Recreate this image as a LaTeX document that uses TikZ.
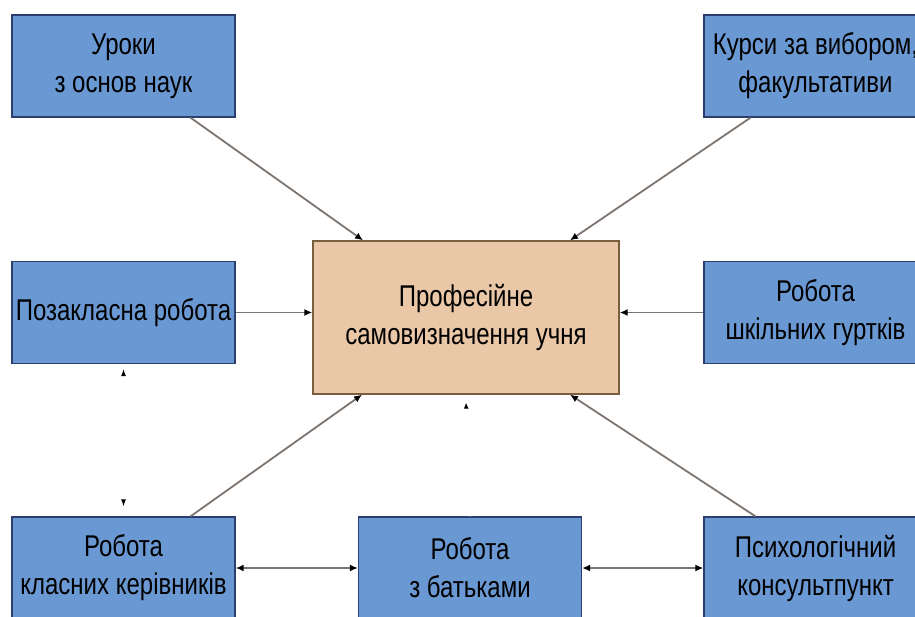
\documentclass[tikz,border=0pt]{standalone}
\usepackage{fontspec}
\setmainfont{Liberation Sans}
\newfontfamily\boxfont[FakeStretch=0.8]{Liberation Sans}
\usetikzlibrary{arrows.meta,positioning}

\definecolor{boxblue}{HTML}{6A98D2}
\definecolor{boxline}{HTML}{2C3E6E}
\definecolor{mainfill}{HTML}{E9C7A7}
\definecolor{mainline}{HTML}{7A5E40}
\definecolor{arrowgray}{HTML}{7D7470}

\tikzset{
  block/.style={rectangle, fill=boxblue, draw=boxline, line width=1.3pt,
    minimum width=223pt, minimum height=102pt, align=center,
    font=\boxfont\fontsize{30}{38}\selectfont, inner sep=0pt},
  mainblock/.style={block, fill=mainfill, draw=mainline,
    minimum width=306pt, minimum height=153pt},
  link/.style={draw=arrowgray, line width=1.8pt,
    -{Latex[black,length=8pt,width=7pt]}},
  both/.style={link, {Latex[black,length=8pt,width=7pt]}-{Latex[black,length=8pt,width=7pt]}},
  ghost/.style={draw=white, line width=1pt}
}

\begin{document}
\begin{tikzpicture}[x=1pt, y=-1pt]
  \useasboundingbox (0,0) rectangle (915,616);

  \node[mainblock] (self)  at (466,317.5) {Професійне\\самовизначення учня};

  \node[block] (lessons) at (123.5,66)  {Уроки\\з основ наук};
  \node[block] (courses) at (815.5,66)  {Курси за вибором,\\факультативи};
  \node[block] (extra)   at (123.5,312.5) {Позакласна робота};
  \node[block] (clubs)   at (815.5,312.5) {Робота\\шкільних гуртків};
  \node[block] (tutors)  at (123.5,568) {Робота\\класних керівників};
  \node[block] (parents) at (470,568)   {Робота\\з батьками};
  \node[block] (psych)   at (815.5,568) {Психологічний\\консультпункт};

  \path[link] ([xshift=67pt]lessons.south) -- ([xshift=-103pt]self.north);
  \path[link] ([xshift=-65pt]courses.south) -- ([xshift=104pt]self.north);
  \path[link] (extra.east) -- (extra.east -| self.west);
  \path[link] (clubs.west) -- (clubs.west -| self.east);
  \path[link] ([xshift=67pt]tutors.north) -- ([xshift=-104pt]self.south);
  \path[link] ([xshift=-60pt]psych.north) -- ([xshift=104pt]self.south);
  \path[both] (tutors.east) -- (parents.west);
  \path[both] (parents.east) -- (psych.west);

  % only the tips of these two show
  \path[ghost, {Latex[black,length=7pt,width=5pt]}-{Latex[black,length=7pt,width=5pt]}]
    ([yshift=-5pt]extra.south) -- ([yshift=10pt]tutors.north);
  \path[ghost, -{Latex[black,length=6pt,width=5pt]}]
    (parents.north) -- ([yshift=-8pt]self.south);
\end{tikzpicture}
\end{document}
